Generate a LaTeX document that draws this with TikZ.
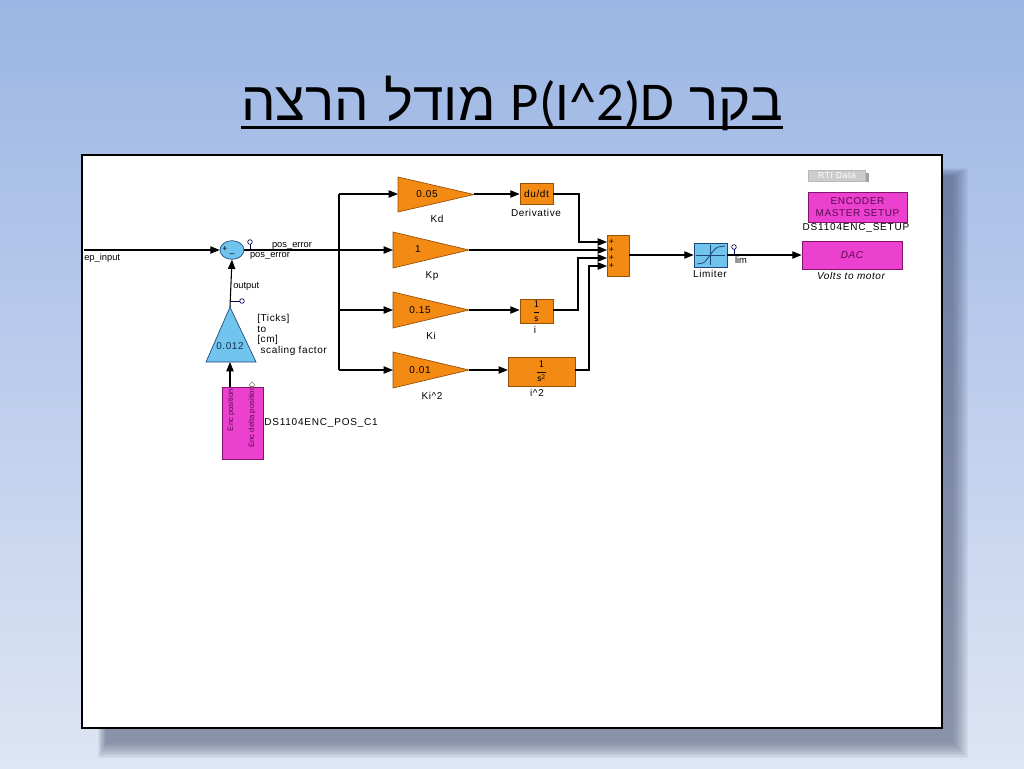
\documentclass[tikz,border=0pt]{standalone}
\usepackage{fontspec}
\setmainfont{Liberation Sans}
\newfontfamily\hebfont[Script=Hebrew]{Liberation Sans}
\newfontfamily\latfont{Carlito}
\newfontfamily\blkfont[LetterSpace=6]{Liberation Sans}
\newfontfamily\dsfont[LetterSpace=8]{Liberation Sans}
\TeXXeTstate=1
\usetikzlibrary{arrows.meta,shapes.geometric}
\definecolor{bgtop}{RGB}{155,182,228}
\definecolor{bgbot}{RGB}{222,229,244}
\definecolor{sorange}{RGB}{242,138,20}
\definecolor{sorangeD}{RGB}{150,80,10}
\definecolor{spink}{RGB}{236,64,206}
\definecolor{spinkD}{RGB}{130,20,110}
\definecolor{sblue}{RGB}{112,196,238}
\definecolor{sblueD}{RGB}{30,70,120}
\definecolor{shadowc}{RGB}{50,60,90}
\definecolor{ptext}{RGB}{90,10,80}
\tikzset{
  wire/.style={line width=0.8pt,black},
  arr/.style={wire,-{Triangle[length=7pt,width=5.5pt]}},
  lbl/.style={font=\fontsize{7}{8}\selectfont,inner sep=0pt},
  blbl/.style={font=\blkfont\fontsize{7.5}{8}\selectfont,inner sep=0pt},
  dslbl/.style={font=\dsfont\fontsize{7.5}{8.5}\selectfont,inner sep=0pt},
  oblock/.style={draw=sorangeD,fill=sorange,line width=0.5pt,inner sep=0pt,font=\blkfont\fontsize{7.5}{8}\selectfont},
  pblock/.style={draw=spinkD,fill=spink,line width=0.5pt,inner sep=0pt},
  gainshape/.style={draw=sorangeD,fill=sorange,line width=0.5pt,line join=miter},
  tpoint/.style={draw=black!70!blue,line width=0.5pt,fill=white},
}
\begin{document}
\begin{tikzpicture}[x=0.75pt,y=-0.75pt]
\useasboundingbox (0,0) rectangle (1024,768);
% background
\shade[top color=bgtop,bottom color=bgbot] (0,0) rectangle (1024,768);
% title
\node[anchor=base,inner sep=0pt] (title) at (512,120)
  {\fontsize{41}{48}\selectfont\hebfont\beginR בקר \beginL{\latfont P(I\textasciicircum 2)D}\endL{} מודל הרצה\endR};
\draw[line width=1.8pt] ([yshift=-5.5pt]title.base west) -- ([yshift=-5.5pt]title.base east);
% shadow of the frame
\foreach \i in {0,...,10}
  \fill[shadowc,opacity=0.055] (98+\i*0.8,168+\i*0.8) rectangle (968-\i*1.5,758-\i*1.5);
% frame
\node[draw=black,line width=2.2pt,fill=white,minimum width=645pt,minimum height=429.75pt,inner sep=0pt] (frame) at (512,441.5) {};

% ---------- input and summing junction ----------
\coordinate (inL) at (84,250);
\node[lbl,anchor=north west] (inlbl) at (84,253) {ep\_input};
\node[ellipse,draw=sblueD,fill=sblue,minimum width=18pt,minimum height=14pt,inner sep=0pt,line width=0.5pt] (sum) at (232,250) {};
\node[lbl,font=\fontsize{6.5}{6.5}\selectfont] (sp) at (225,249) {+};
\node[lbl,font=\fontsize{6.5}{6.5}\selectfont] (sm) at (232,255) {–};
\draw[arr] (inL) -- (sum.west);
\coordinate (br) at (339,250);
\draw[wire] (sum.east) -- (br);
\node[lbl] (pe1) at (292,246) {pos\_error};
\node[lbl] (pe2) at (270,256) {pos\_error};
\coordinate (tp1) at (250,249);
\draw[black!70!blue,line width=0.5pt] (tp1) -- (250,244);
\node[tpoint,circle,minimum size=3.5pt,inner sep=0pt] (tp1c) at (250,242) {};

% ---------- branches ----------
\coordinate (brT) at (339,194);
\coordinate (brI) at (339,310);
\coordinate (brB) at (339,370);
\draw[wire] (brT) -- (brB);
\fill (br) circle (1.2);
\fill (brI) circle (1.2);

% gains
\draw[gainshape] (398,177) -- (474,194.5) -- (398,212) -- cycle;
\coordinate (kdIn) at (398,194); \coordinate (kdOut) at (474,194);
\node[blbl] (kdv) at (427,194) {0.05};
\node[blbl] (kdl) at (437,219) {Kd};

\draw[gainshape] (393,232) -- (469,250) -- (393,268) -- cycle;
\coordinate (kpIn) at (393,250); \coordinate (kpOut) at (469,250);
\node[blbl] (kpv) at (418,249) {1};
\node[blbl] (kpl) at (432,276) {Kp};

\draw[gainshape] (393,292) -- (469,310) -- (393,328) -- cycle;
\coordinate (kiIn) at (393,310); \coordinate (kiOut) at (469,310);
\node[blbl] (kiv) at (420,310) {0.15};
\node[blbl] (kil) at (431,336) {Ki};

\draw[gainshape] (393,352) -- (469,370) -- (393,388) -- cycle;
\coordinate (ki2In) at (393,370); \coordinate (ki2Out) at (469,370);
\node[blbl] (ki2v) at (420,370) {0.01};
\node[blbl] (ki2l) at (432,396) {Ki\textasciicircum 2};

\draw[arr] (brT) -- (kdIn);
\draw[arr] (br) -- (kpIn);
\draw[arr] (brI) -- (kiIn);
\draw[arr] (brB) -- (ki2In);

% dynamic blocks
\node[oblock,minimum width=24.75pt,minimum height=15.75pt] (der) at (536.5,194) {du/dt};
\node[blbl] (derl) at (536,213) {Derivative};
\node[oblock,minimum width=24.75pt,minimum height=18pt] (int1) at (536.5,311) {$\displaystyle\frac{\mathsf{1}}{\mathsf{s}}$};
\node[blbl] (int1l) at (535,330) {i};
\node[oblock,minimum width=50pt,minimum height=21.75pt] (int2) at (541.5,371.5) {$\displaystyle\frac{\mathsf{1}}{\mathsf{s}^{\mathsf{2}}}$};
\node[blbl] (int2l) at (537,393) {i\textasciicircum 2};

\draw[arr] (kdOut) -- (der.west |- kdOut);
\draw[arr] (kiOut) -- (int1.west |- kiOut);
\draw[arr] (ki2Out) -- (int2.west |- ki2Out);

% summation block
\node[oblock,minimum width=16.5pt,minimum height=30.75pt] (sum2) at (618,255.5) {};
\coordinate (s1) at (607,242); \coordinate (s2) at (607,250);
\coordinate (s3) at (607,258); \coordinate (s4) at (607,266);
\foreach \yy in {242,250,258,266}
  \node[lbl,font=\fontsize{6.5}{6.5}\selectfont] at (611.5,\yy) {+};
\draw[arr] (der.east) -- (579,194) -- (579,242) -- (s1);
\draw[arr] (kpOut) -- (s2);
\draw[arr] (int1.east |- kiOut) -- (578,310) -- (578,258) -- (s3);
\draw[arr] (int2.east |- ki2Out) -- (589,370) -- (589,266) -- (s4);

% limiter
\node[draw=sblueD,fill=sblue,line width=0.5pt,minimum width=24.75pt,minimum height=18pt,inner sep=0pt] (lim) at (710.5,255) {};
\draw[sblueD,line width=0.4pt] (710.5,245) -- (710.5,265) (696,255) -- (725,255);
\draw[sblueD,line width=0.6pt] (697,264) -- (703,263) .. controls (707,261) and (713,249) .. (718,247) -- (725,246);
\node[blbl] (liml) at (710,274) {Limiter};
\draw[arr] (sum2.east |- lim) -- (lim.west);
\coordinate (tp2) at (734,254);
\draw[black!70!blue,line width=0.5pt] (tp2) -- (734,249);
\node[tpoint,circle,minimum size=3.5pt,inner sep=0pt] (tp2c) at (734,247) {};
\node[lbl] (limt) at (741,260) {lim};

% DAC
\node[pblock,minimum width=75pt,minimum height=21pt,font=\blkfont\fontsize{7.5}{8}\selectfont\itshape,text=ptext] (dac) at (852,255) {DAC};
\node[blbl,font=\blkfont\fontsize{7.5}{8}\selectfont\itshape] (dacl) at (851,276) {Volts to motor};
\draw[arr] (lim.east) -- (dac.west);

% RTI data and encoder setup
\fill[gray!75] (810,173) rectangle (869,182);
\node[draw=gray!55,fill=gray!40,text=white,font=\blkfont\fontsize{6.5}{7}\selectfont,minimum width=43pt,minimum height=8pt,inner sep=0pt] (rti) at (837,175.5) {RTI Data};
\node[pblock,minimum width=74.25pt,minimum height=22.5pt,align=center,text=ptext,font=\blkfont\fontsize{7.5}{8.5}\selectfont] (enc) at (857.5,207) {ENCODER\\MASTER SETUP};
\node[dslbl] (encl) at (856,228) {DS1104ENC\_SETUP};

% ---------- feedback path ----------
\draw[fill=sblue,draw=sblueD,line width=0.5pt] (206,362) -- (230,307) -- (256,362) -- cycle;
\coordinate (fbIn) at (230,362); \coordinate (fbOut) at (230,307);
\node[blbl,text=sblueD!70!black] (fbv) at (230,346) {0.012};
\node[blbl,anchor=west,align=left] (fbt) at (257,335) {[Ticks]\\to\\{[cm]}\\\ scaling factor};
\draw[arr] (fbOut) -- (sum.south);
\node[lbl,anchor=west] (outl) at (233,286) {output};
\coordinate (tp3) at (231,301);
\draw[black!70!blue,line width=0.5pt] (tp3) -- (240,301);
\node[tpoint,circle,minimum size=3.5pt,inner sep=0pt] (tp3c) at (242,301) {};

\node[pblock,minimum width=30.75pt,minimum height=54pt] (encpos) at (242.5,423) {};
\node[rotate=90,font=\fontsize{5.8}{6}\selectfont,text=ptext,inner sep=0pt] (ep1) at (231,410) {Enc position};
\node[rotate=90,font=\fontsize{5.8}{6}\selectfont,text=ptext,inner sep=0pt] (ep2) at (252,417) {Enc delta position};
\draw[gray,line width=0.4pt] (249,385) -- (252,382) -- (255,385) -- (252,388) -- cycle;
\node[dslbl,anchor=west] (epl) at (264,423) {DS1104ENC\_POS\_C1};
\draw[arr] (encpos.north -| fbIn) -- (fbIn);
\end{tikzpicture}
\end{document}
